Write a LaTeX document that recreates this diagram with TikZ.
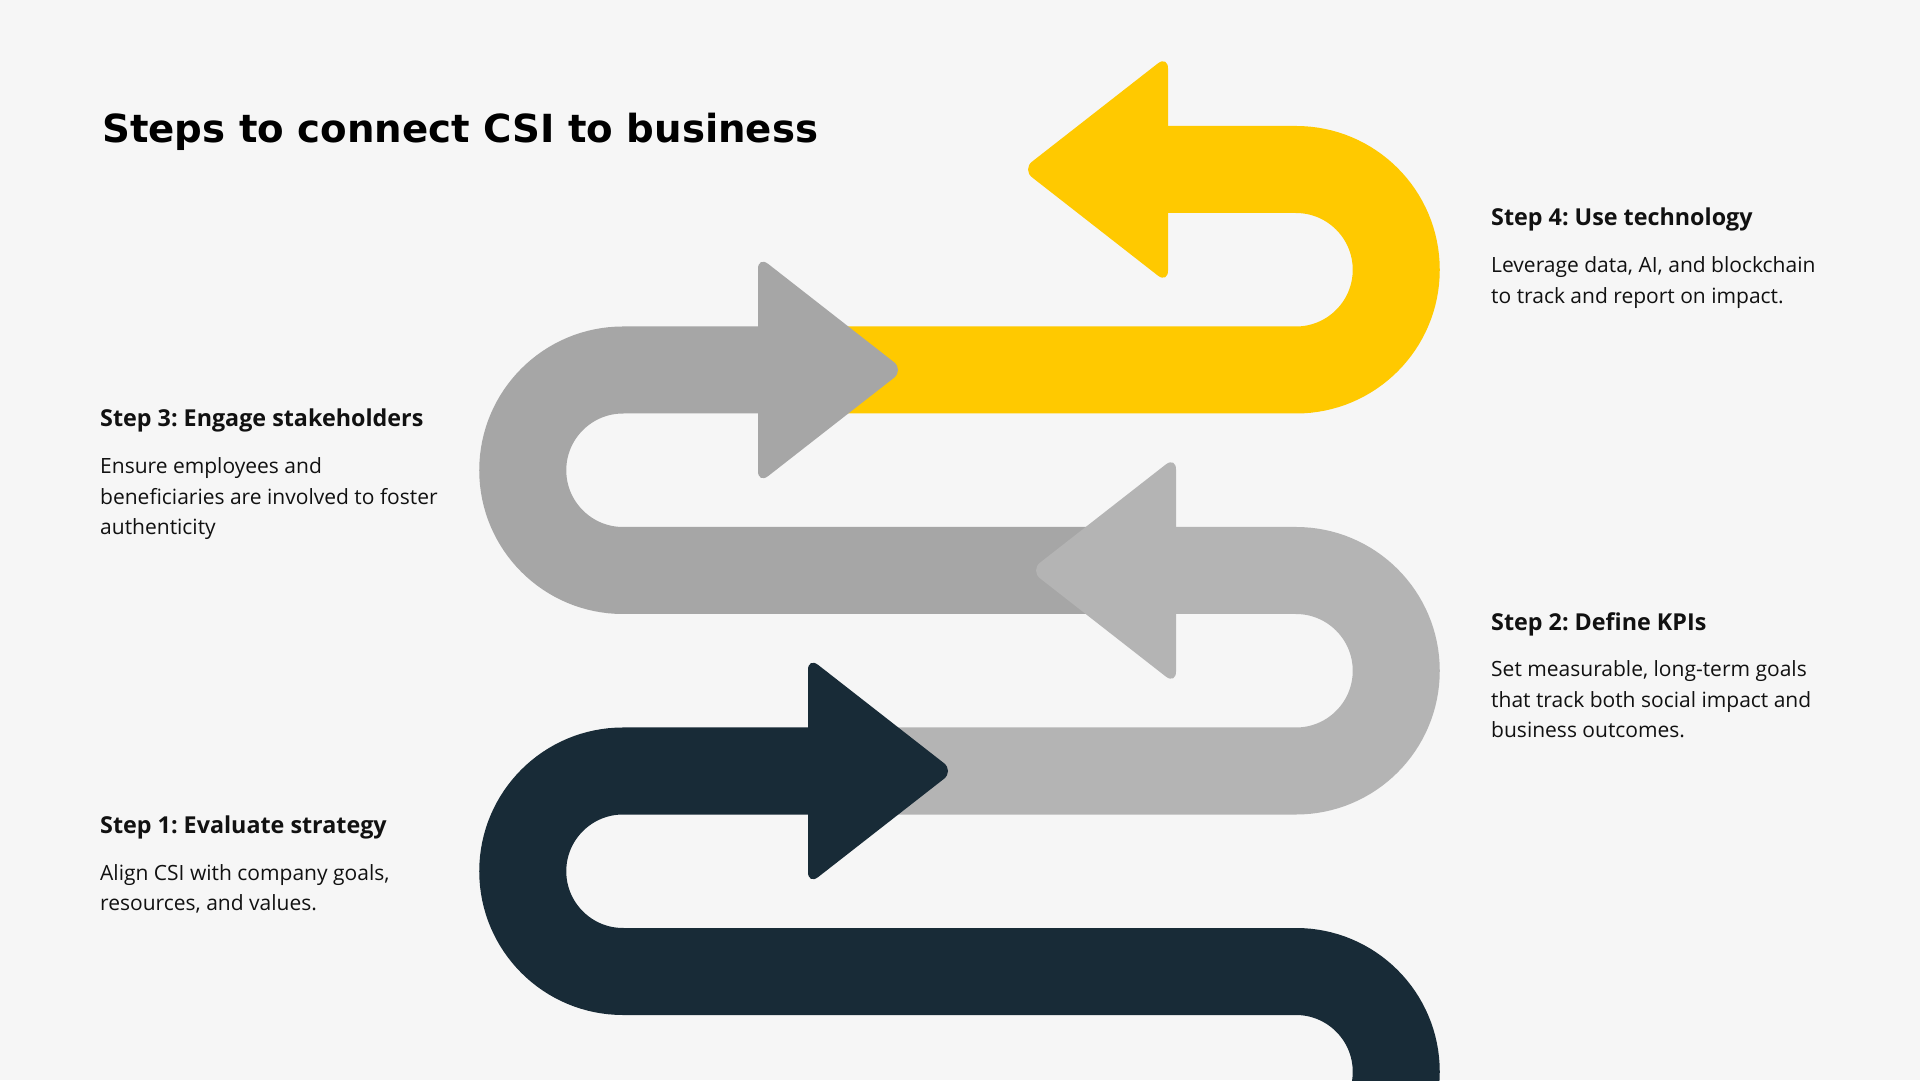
\documentclass[tikz,border=0pt]{standalone}
\usepackage{fontspec}
\setmainfont{Open Sans}
\newfontfamily\titlefont{DejaVu Sans}
\frenchspacing
\definecolor{bgc}{HTML}{F6F6F6}
\definecolor{yellowc}{HTML}{FFC900}
\definecolor{grayA}{HTML}{A6A6A6}
\definecolor{grayB}{HTML}{B4B4B4}
\definecolor{darkc}{HTML}{182B37}
\definecolor{txtc}{HTML}{111111}
\tikzset{
  band/.style={line width=87pt, line cap=butt},
  headshape/.style={rounded corners=13pt},
  titletext/.style={inner sep=0pt, anchor=base west, font=\titlefont\bfseries\fontsize{38.7}{46}\selectfont, text=black},
  headtext/.style={inner sep=0pt, anchor=base west, font=\frenchspacing\bfseries\fontsize{23.3}{28}\selectfont, text=txtc},
  bodytext/.style={inner sep=0pt, anchor=base west, font=\frenchspacing\fontsize{21.0}{26}\selectfont, text=txtc}
}
\begin{document}
\begin{tikzpicture}[x=1pt,y=1pt]
\fill[bgc] (0,0) rectangle (1920,1080);
\useasboundingbox (0,0) rectangle (1920,1080);
\clip (0,0) rectangle (1920,1080);

% yellow (step 4)
\draw[band, yellowc] (800,710) -- (1296,710) arc[start angle=-90, end angle=90, radius=100.25] -- (1160,910.5);
\fill[headshape, yellowc] (1168,910.5) -- (1168,1024.5) -- (1022,910.5) -- (1168,796.5) -- cycle;

% gray (step 3)
\draw[band, grayA] (765,710) -- (623,710) arc[start angle=90, end angle=270, radius=100.25] -- (1140,509.5);
\fill[headshape, grayA] (758,710) -- (758,824) -- (904,710) -- (758,596) -- cycle;

% light gray (step 2)
\draw[band, grayB] (1170,509.5) -- (1296,509.5) arc[start angle=90, end angle=-90, radius=100.25] -- (850,309);
\fill[headshape, grayB] (1176,509.5) -- (1176,623.5) -- (1030,509.5) -- (1176,395.5) -- cycle;

% dark (step 1)
\draw[band, darkc] (815,309) -- (623,309) arc[start angle=90, end angle=270, radius=100.25] -- (1296,108.5) arc[start angle=90, end angle=-40, radius=100.25];
\fill[headshape, darkc] (808,309) -- (808,423) -- (954,309) -- (808,195) -- cycle;

% title
\node[titletext] (title) at (102,937.3) {Steps to connect CSI to business};

% step 4
\node[headtext] (s4h) at (1491,854) {Step 4: Use technology};
\node[bodytext] (s4a) at (1491,807) {Leverage data, AI, and blockchain};
\node[bodytext] (s4b) at (1491,776.5) {to track and report on impact.};

% step 2
\node[headtext] (s2h) at (1491,449) {Step 2: Define KPIs};
\node[bodytext] (s2a) at (1491,403) {Set measurable, long-term goals};
\node[bodytext] (s2b) at (1491,372.5) {that track both social impact and};
\node[bodytext] (s2c) at (1491,342) {business outcomes.};

% step 3
\node[headtext] (s3h) at (100,653) {Step 3: Engage stakeholders};
\node[bodytext] (s3a) at (100,606) {Ensure employees and};
\node[bodytext] (s3b) at (100,575.5) {beneficiaries are involved to foster};
\node[bodytext] (s3c) at (100,545) {authenticity};

% step 1
\node[headtext] (s1h) at (100,247) {Step 1: Evaluate strategy};
\node[bodytext] (s1a) at (100,200) {Align CSI with company goals,};
\node[bodytext] (s1b) at (100,169.5) {resources, and values.};
\end{tikzpicture}
\end{document}
